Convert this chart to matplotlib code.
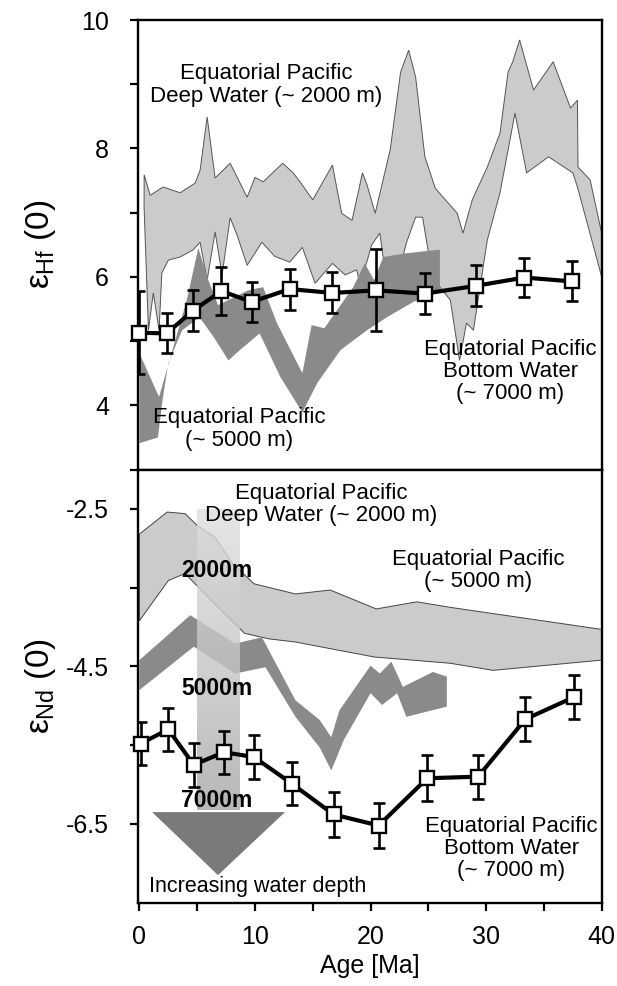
#!/usr/bin/env python
# coding: utf-8

# ## Hf and Nd isotope time series, Equatorial Pacific

import numpy as np
import matplotlib
matplotlib.use('Agg')
import matplotlib.pyplot as plt

plt.rcParams['font.family'] = ['Liberation Sans', 'DejaVu Sans']
plt.rcParams['mathtext.fontset'] = 'custom'
plt.rcParams['mathtext.rm'] = 'Liberation Sans'
plt.rcParams['mathtext.it'] = 'Liberation Sans'

### Bottom water record (squares with error bars)
hf_age = [0.0, 2.36, 4.6, 7.1, 9.7, 13.0, 16.7, 20.5, 24.7, 29.1, 33.3, 37.4]
hf_val = [5.13, 5.12, 5.47, 5.78, 5.61, 5.81, 5.75, 5.79, 5.74, 5.86, 5.99, 5.93]
hf_err = [0.65, 0.31, 0.32, 0.37, 0.31, 0.32, 0.32, 0.64, 0.32, 0.32, 0.31, 0.31]

nd_age = [0.1, 2.5, 4.7, 7.3, 9.9, 13.2, 16.8, 20.7, 24.9, 29.3, 33.4, 37.6]
nd_val = [-5.48, -5.30, -5.75, -5.59, -5.65, -5.99, -6.38, -6.52, -5.92, -5.90, -5.17, -4.89]
nd_err = [0.27, 0.27, 0.28, 0.27, 0.28, 0.27, 0.28, 0.28, 0.29, 0.28, 0.28, 0.28]

### Hf deep water (~2000 m) envelope
hf_deep_up_age = [0.41, 0.93, 2.05, 3.52, 4.82, 5.25, 5.86, 6.55, 7.85, 9.32, 10.0, 10.7,
                  12.4, 13.3, 13.9, 15.0, 16.7, 17.5, 18.4, 19.3, 19.7, 20.4, 21.7, 22.6,
                  23.3, 23.9, 24.7, 25.6, 27.5, 28.0, 28.8, 30.1, 31.2, 31.9, 32.3, 32.9,
                  34.1, 35.8, 37.3, 37.9, 37.95, 39.0, 40.0]
hf_deep_up = [7.59, 7.27, 7.40, 7.31, 7.46, 7.66, 8.49, 7.54, 7.77, 7.24, 7.55, 7.48,
              7.77, 7.62, 7.48, 7.20, 7.74, 6.99, 6.88, 7.62, 7.43, 6.99, 7.98, 9.19,
              9.53, 9.11, 7.87, 7.38, 6.99, 6.68, 7.20, 7.71, 8.24, 9.19, 9.35, 9.69,
              8.91, 9.35, 8.63, 8.75, 7.71, 7.51, 6.68]
hf_deep_lo_age = [0.4, 0.78, 1.2, 1.7, 1.94, 2.5, 3.52, 4.64, 5.25, 5.86, 6.55, 7.15,
                  7.85, 8.45, 9.32, 10.6, 11.7, 13.0, 14.1, 15.2, 16.7, 17.8, 18.8, 19.1,
                  20.1, 20.8, 21.7, 23.1, 23.9, 24.5, 25.0, 26.0, 26.9, 27.7, 28.3, 28.9,
                  29.5, 30.1, 31.2, 32.5, 33.5, 35.4, 37.5, 37.9, 40.0]
hf_deep_lo = [7.1, 5.17, 5.75, 5.17, 6.06, 6.26, 6.31, 6.42, 6.54, 5.95, 6.70, 6.03,
              6.92, 6.65, 6.18, 6.54, 6.32, 6.23, 6.46, 5.90, 6.21, 6.03, 6.11, 5.87,
              6.50, 6.68, 5.53, 6.53, 6.93, 6.93, 6.39, 5.84, 5.64, 4.70, 5.28, 5.17,
              5.87, 6.57, 7.31, 8.55, 7.62, 7.87, 7.62, 7.40, 6.00]

### Hf ~5000 m envelope
hf_5000_up_age = [0.0, 1.7, 3.1, 4.1, 5.1, 5.9, 6.8, 9.4, 10.7, 11.9, 14.1, 14.9, 16.0,
                  18.5, 19.5, 20.3, 21.1, 23.2, 25.8, 26.0]
hf_5000_up = [4.81, 4.13, 5.01, 5.64, 6.45, 5.98, 5.56, 5.79, 5.84, 5.28, 4.50, 5.25, 5.20,
              5.84, 6.21, 5.95, 6.31, 6.37, 6.42, 6.42]
hf_5000_lo_age = [0.0, 1.6, 2.0, 2.5, 3.7, 5.2, 6.4, 7.7, 8.7, 10.4, 12.2, 14.1, 15.4,
                  17.4, 19.7, 21.4, 23.7, 26.0]
hf_5000_lo = [3.41, 3.50, 4.08, 4.66, 5.17, 5.37, 5.07, 4.70, 4.86, 5.12, 4.44, 3.89, 4.35,
              4.86, 5.17, 5.37, 5.61, 5.79]

### Nd deep water (~2000 m) envelope
nd_deep_up_age = [0.0, 2.4, 3.95, 5.0, 6.55, 8.0, 9.9, 13.5, 16.5, 20.5, 24.0, 26.9, 40.0]
nd_deep_up = [-2.82, -2.54, -2.56, -2.71, -2.86, -3.18, -3.45, -3.58, -3.53, -3.77, -3.68,
              -3.75, -4.03]
nd_deep_lo_age = [0.0, 2.5, 3.95, 5.0, 7.1, 9.1, 11.2, 13.5, 20.3, 26.9, 30.6, 40.0]
nd_deep_lo = [-3.92, -3.41, -3.32, -3.48, -3.79, -4.08, -4.15, -4.19, -4.38, -4.46, -4.55,
              -4.42]

### Nd ~5000 m envelope
nd_5000_up_age = [0.0, 4.4, 8.3, 10.6, 13.5, 15.6, 16.6, 17.3, 20.0, 20.8, 21.8, 22.8, 25.4, 26.6]
nd_5000_up = [-4.42, -3.85, -4.21, -4.13, -4.93, -5.18, -5.40, -5.06, -4.49, -4.59, -4.44,
              -4.76, -4.57, -4.63]
nd_5000_lo_age = [0.0, 4.7, 8.3, 10.9, 13.5, 15.6, 16.6, 17.7, 20.0, 21.0, 22.3, 23.1, 26.6]
nd_5000_lo = [-4.80, -4.25, -4.59, -4.51, -5.14, -5.53, -5.82, -5.43, -4.84, -4.99, -4.84,
              -5.14, -5.01]

LIGHT = '#cbcbcb'
DARK = '#8a8a8a'
FS = 16


def envelope(ax, up_age, up, lo_age, lo, color, edge=None):
    """Fill a polygon between an upper and a lower edge."""
    xs = np.r_[up_age, lo_age[::-1]]
    ys = np.r_[up, lo[::-1]]
    if edge is None:
        ax.fill(xs, ys, color=color, lw=0, zorder=1)
    else:
        ax.fill(xs, ys, facecolor=color, edgecolor=edge, lw=0.7, zorder=1)


def record(ax, age, val, err):
    ax.errorbar(age, val, yerr=err, fmt='none', ecolor='black', elinewidth=1.9,
                capsize=4.5, capthick=1.9, zorder=4)
    ax.plot(age, val, color='black', lw=3.0, solid_joinstyle='round', zorder=5)
    ax.plot(age, val, ls='none', marker='s', ms=10.5, mfc='white', mec='black',
            mew=1.7, zorder=6, clip_on=False)


def style(ax):
    for s in ax.spines.values():
        s.set_linewidth(1.7)
    ax.tick_params(axis='both', which='both', direction='out', length=6, width=1.6,
                   labelsize=18, top=False, right=False)
    ax.set_xlim(-0.1, 40)


fig = plt.figure(figsize=(6.17, 9.86), dpi=100)
ax1 = fig.add_axes([0.2241, 0.5238, 0.7511, 0.4559])
ax2 = fig.add_axes([0.2241, 0.0845, 0.7511, 0.4393])

### top panel: Hf
envelope(ax1, hf_deep_up_age, hf_deep_up, hf_deep_lo_age, hf_deep_lo, LIGHT, edge='#555555')
envelope(ax1, hf_5000_up_age, hf_5000_up, hf_5000_lo_age, hf_5000_lo, DARK)
record(ax1, hf_age, hf_val, hf_err)
style(ax1)
ax1.set_ylim(3, 10)
ax1.set_yticks([4, 6, 8, 10])
ax1.set_yticks([3, 5, 7, 9], minor=True)
ax1.set_xticks(np.arange(5, 40, 5))
ax1.set_xticklabels([])
ax1.tick_params(axis='y', pad=15)
ax1.text(11.0, 8.99, 'Equatorial Pacific\nDeep Water (~ 2000 m)', ha='center', va='center',
         fontsize=FS, linespacing=1.12, zorder=7)
ax1.text(8.6, 3.63, 'Equatorial Pacific\n(~ 5000 m)', ha='center', va='center',
         fontsize=FS, linespacing=1.12, zorder=7)
ax1.text(32.1, 4.53, 'Equatorial Pacific\nBottom Water\n(~ 7000 m)', ha='center', va='center',
         fontsize=FS, linespacing=1.08, zorder=7)
ax1.text(-0.212, 0.5, r'$\varepsilon_{\mathrm{Hf}}$ (0)', transform=ax1.transAxes,
         rotation=90, ha='center', va='center', fontsize=24)

### bottom panel: Nd
envelope(ax2, nd_deep_up_age, nd_deep_up, nd_deep_lo_age, nd_deep_lo, LIGHT, edge='#444444')
envelope(ax2, nd_5000_up_age, nd_5000_up, nd_5000_lo_age, nd_5000_lo, DARK)

# depth arrow: gradient shaft and triangular head
grad = np.linspace(0.22, 0.45, 100).reshape(-1, 1)
ax2.imshow(grad, extent=[5.0, 8.65, -6.32, -2.5], origin='upper', cmap='Greys',
           vmin=0, vmax=1, aspect='auto', alpha=0.8, zorder=2)
ax2.fill([1.1, 12.6, 6.8], [-6.35, -6.35, -7.15], color='#7a7a7a', lw=0, zorder=2)

record(ax2, nd_age, nd_val, nd_err)
style(ax2)
ax2.set_xlim(-0.1, 40)
ax2.set_ylim(-7.5, -2.0)
ax2.set_yticks([-6.5, -4.5, -2.5])
ax2.set_yticklabels(['-6.5', '-4.5', '-2.5'])
ax2.set_yticks([-5.5, -3.5], minor=True)
ax2.set_xticks([0, 10, 20, 30, 40])
ax2.set_xticks([5, 15, 25, 35], minor=True)
ax2.tick_params(axis='x', which='major', pad=10)
ax2.tick_params(axis='y', pad=15)
ax2.set_xlabel('Age [Ma]', fontsize=18, labelpad=4)

ax2.text(15.7, -2.44, 'Equatorial Pacific\nDeep Water (~ 2000 m)', ha='center', va='center',
         fontsize=FS, linespacing=1.08, zorder=7)
ax2.text(29.3, -3.28, 'Equatorial Pacific\n(~ 5000 m)', ha='center', va='center',
         fontsize=FS, linespacing=1.08, zorder=7)
ax2.text(32.2, -6.81, 'Equatorial Pacific\nBottom Water\n(~ 7000 m)', ha='center', va='center',
         fontsize=FS, linespacing=1.05, zorder=7)
for lab, y in [('2000m', -3.28), ('5000m', -4.78), ('7000m', -6.20)]:
    ax2.text(6.7, y, lab, ha='center', va='center', fontsize=16.5, fontweight='bold', zorder=7)
ax2.text(0.8, -7.30, 'Increasing water depth', ha='left', va='center', fontsize=15.5, zorder=7)
ax2.text(-0.212, 0.5, r'$\varepsilon_{\mathrm{Nd}}$ (0)', transform=ax2.transAxes,
         rotation=90, ha='center', va='center', fontsize=24)

plt.savefig('out.png', dpi=100)
